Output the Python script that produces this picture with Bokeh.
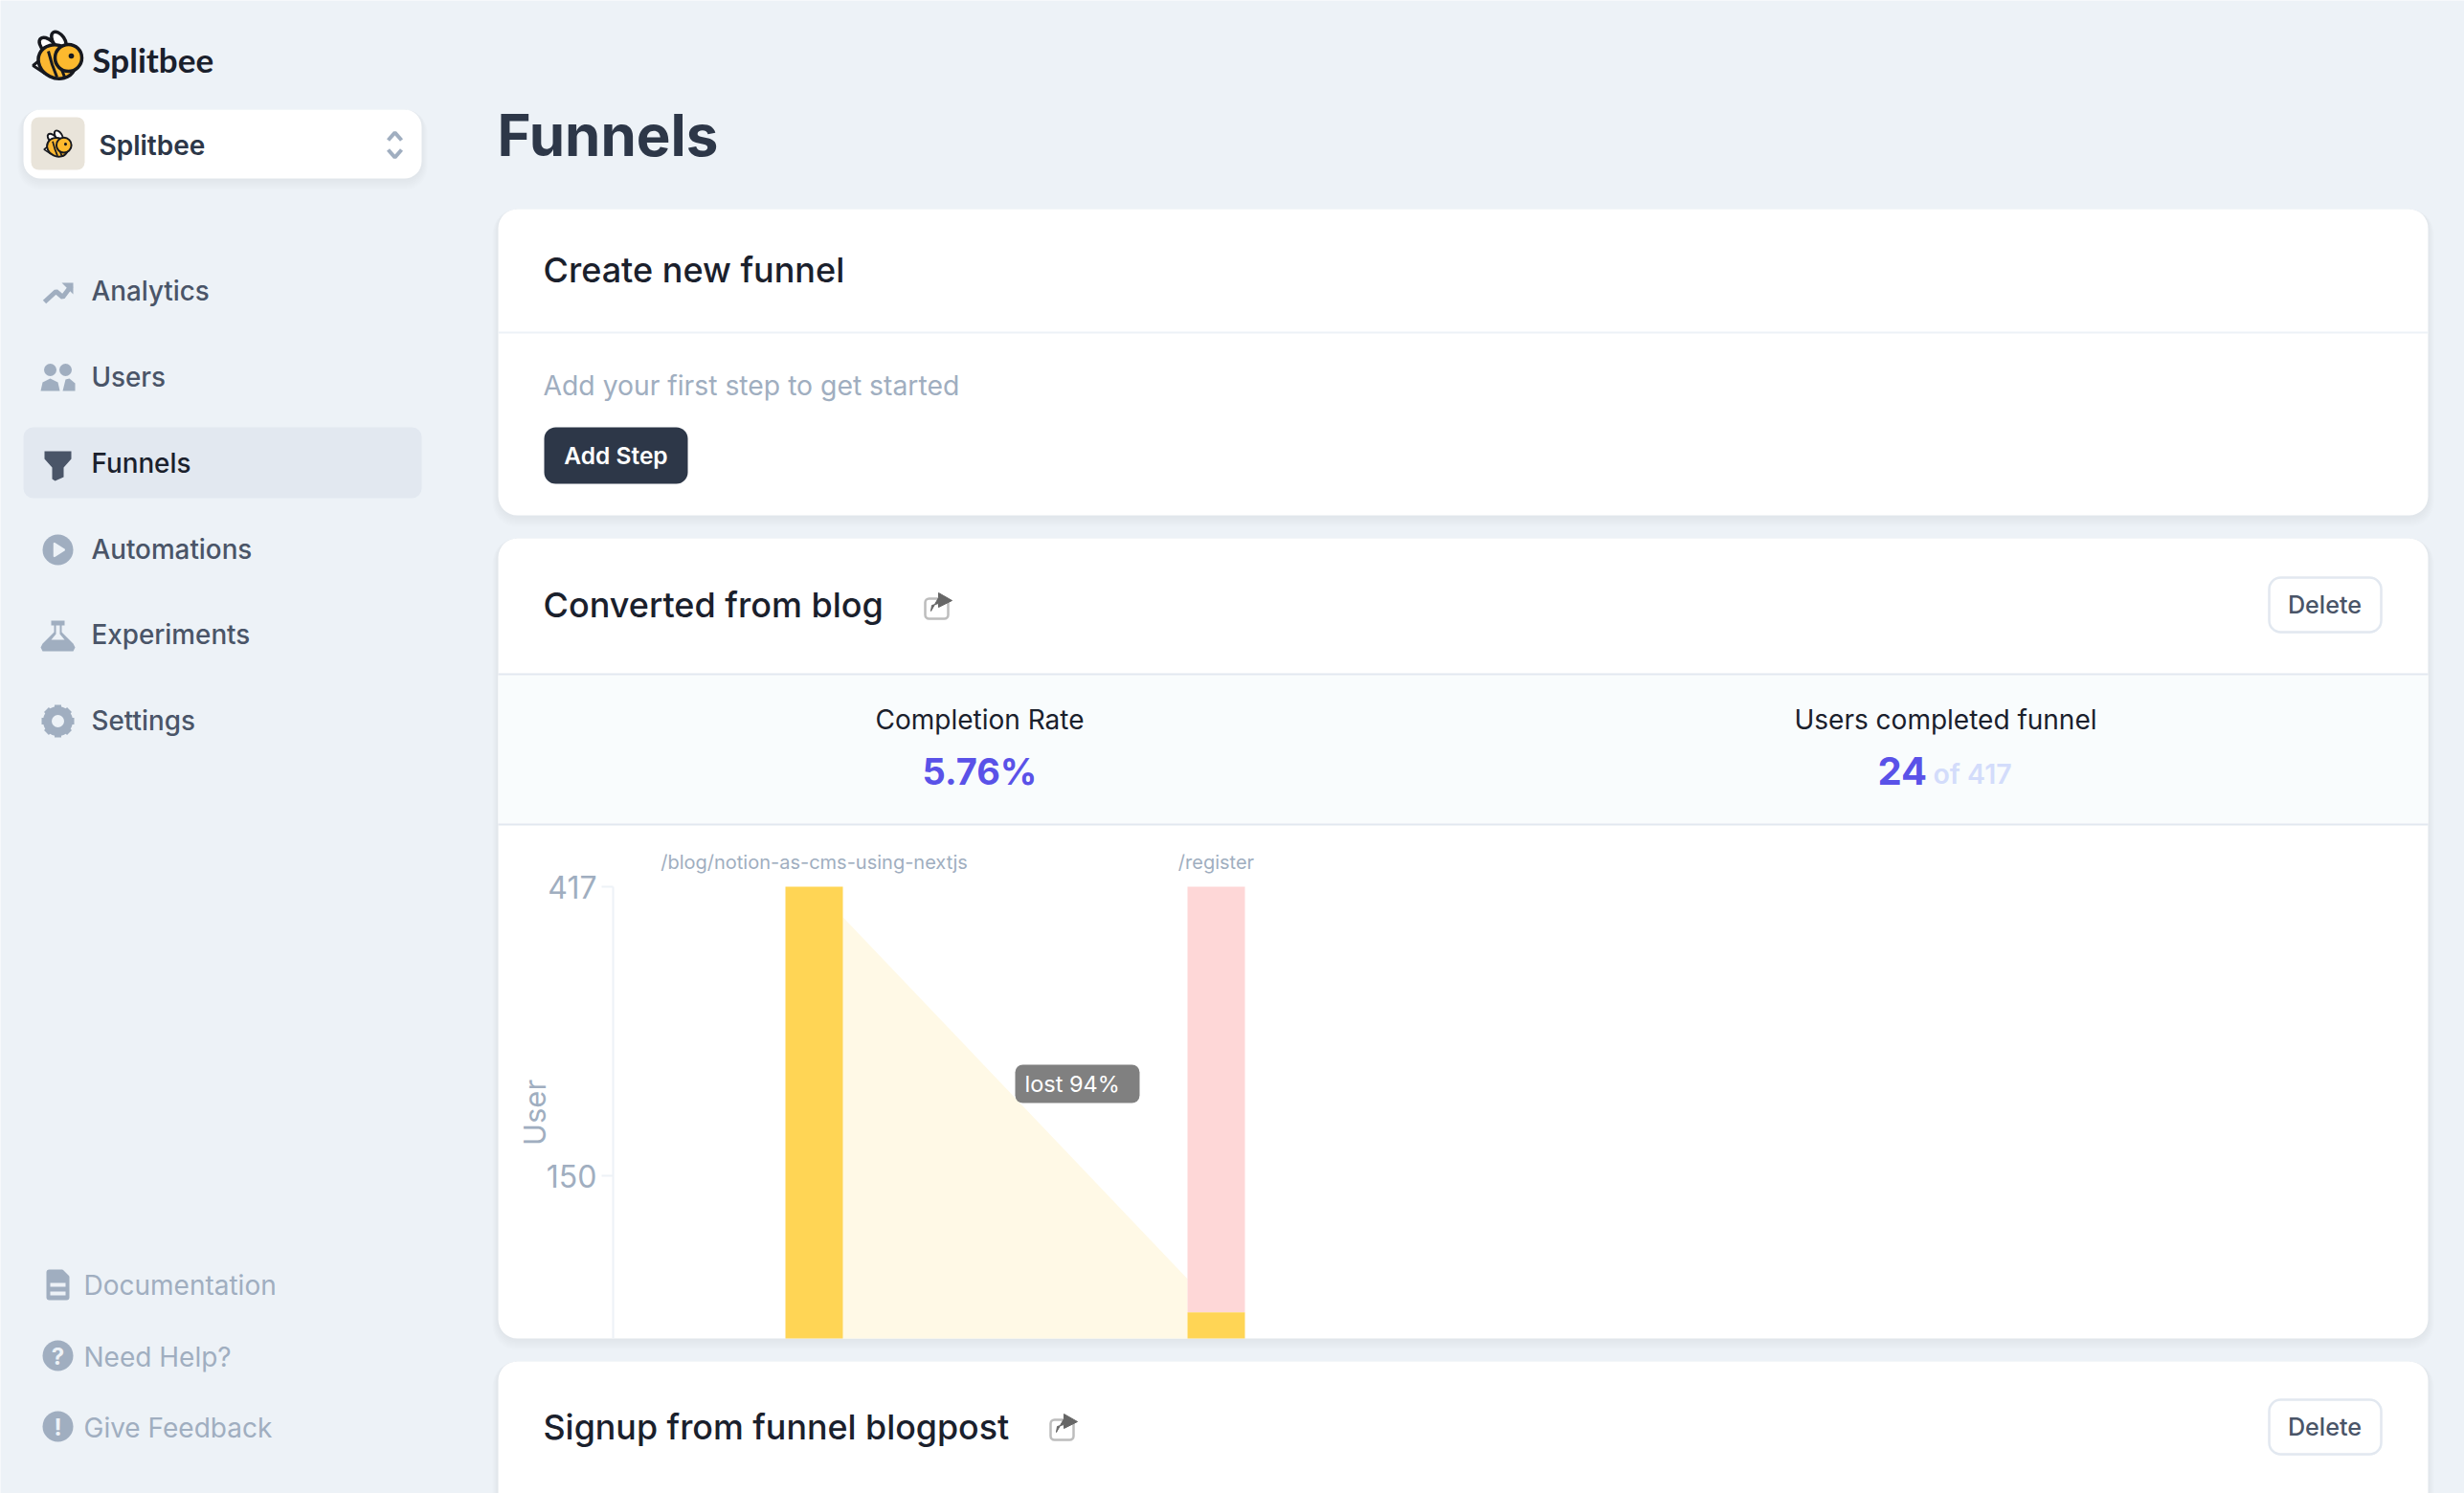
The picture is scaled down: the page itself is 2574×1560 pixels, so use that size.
from bokeh.plotting import figure
from bokeh.models import Range1d, LinearAxis, FixedTicker
from bokeh.core.properties import value
from bokeh.embed import file_html
from bokeh.resources import INLINE
import numpy as np

# Chart data
steps = [0, 1]
step_labels = ["/blog/notion-as-cms-using-nextjs", "/register"]
users_reached = [417, 24]
users_lost = [0, 393]
funnel_edge = [389, 55]
y_ticks = [150, 417]
lost_percent = 94
completion_rate = "5.76%"

# Page text
nav_labels = ["Analytics", "Users", "Funnels", "Automations", "Experiments", "Settings"]
footer_labels = ["Documentation", "Need Help?", "Give Feedback"]
card_titles = ["Create new funnel", "Converted from blog", "Signup from funnel blogpost"]

GRAY = "#a0aec0"
SLATE = "#4a5568"
DARK = "#1a202c"
NAVY = "#2d3748"
LINE = "#e2e8f0"
BG = "#edf2f7"
YELLOW = "#ffd555"
PURPLE = "#5a52e8"
MEDIUM = "Inter Medium"
SEMI = "Inter SemiBold"

# the whole page is one figure, x and y are page pixels
p = figure(width=2574, height=1560, x_range=Range1d(0, 2574), y_range=Range1d(1560, 0),
           x_axis_type=None, y_axis_type=None, toolbar_location=None, output_backend="svg",
           min_border=0, background_fill_color=BG, border_fill_color=BG, outline_line_color=None)
p.grid.visible = False

# chart scales sit on top of the page scales
px_per_user = (1398 - 926) / 417
px_per_step = 420
p.extra_y_ranges = {"users": Range1d((1398 - 1560) / px_per_user, 1398 / px_per_user)}
p.extra_x_ranges = {"steps": Range1d(-850 / px_per_step, (2574 - 850) / px_per_step)}
bar_width = 60 / px_per_step


def box(l, t, r, b, fill, radius=0, line=None, alpha=1.0, width=2):
    p.quad(left=[l], right=[r], top=[t], bottom=[b], fill_color=fill, fill_alpha=alpha,
           line_color=line, line_width=width, border_radius=radius)


def txt(x, y, s, size, color=DARK, align="left", style="normal", font="Inter"):
    p.text(x=[x], y=[y - 1], text=[s], text_font=value(font), text_font_size=f"{size}px", text_color=color,
           text_align=align, text_baseline="middle", text_font_style=style)


def shadow(l, t, r, b, radius):
    for i in range(1, 7):
        box(l - i, t, r + i, b + i * 2, "#64748b", radius + i, alpha=0.016)


def bee(cx, cy, s):
    # s = 1 is the big logo
    ink = "#17191f"
    p.ellipse(x=[cx - 8 * s, cx + 3 * s], y=[cy - 9 * s, cy - 15 * s], width=[13 * s, 12 * s], height=[23 * s, 21 * s],
              angle=[0.8, 0.6], fill_color="#ffffff", line_color=ink, line_width=3.5 * s)
    p.patch([cx - 24 * s, cx - 14 * s, cx - 12 * s], [cy + 11 * s, cy + 3 * s, cy + 19 * s],
            fill_color="#ffffff", line_color=ink, line_width=3 * s)
    p.ellipse(x=[cx + 1 * s], y=[cy + 7 * s], width=[40 * s], height=[34 * s], angle=[-0.45],
              fill_color="#fbb731", line_color=ink, line_width=3.5 * s)
    for dx in (-8, 0):
        p.line([cx + dx * s, cx + (dx + 4) * s, cx + (dx + 9) * s], [cy - 4 * s, cy + 10 * s, cy + 23 * s],
               line_color=ink, line_width=3 * s)
    p.circle(x=[cx + 13 * s], y=[cy + 3 * s], radius=14 * s, fill_color="#fdb92e", line_color=ink, line_width=3.5 * s)
    p.circle(x=[cx + 16 * s], y=[cy + 1 * s], radius=2.8 * s, fill_color=ink, line_color=None)


# --- sidebar ---
bee(58, 57, 1)
txt(96, 62, "Splitbee", 35, DARK, font="Lato", style="bold")

shadow(24, 114, 440, 186, 18)
box(24, 114, 440, 186, "#ffffff", 18)
box(32, 122, 88, 177, "#e9e4da", 8)
bee(59, 149.5, 0.56)
txt(103, 152, "Splitbee", 28, NAVY, font=SEMI)
p.line([405, 412, 419], [146, 138, 146], line_color=GRAY, line_width=4)
p.line([405, 412, 419], [156, 164, 156], line_color=GRAY, line_width=4)

box(24, 446, 440, 520, "#e2e8f0", 10)
nav_y = [304, 394, 484, 574, 663, 753]
for label, y in zip(nav_labels, nav_y):
    txt(95, y, label, 27.8, DARK if label == "Funnels" else SLATE, font=MEDIUM)
for label, y in zip(footer_labels, [1343, 1418, 1492]):
    txt(87, y, label, 28, GRAY)

# nav icons
p.line([46, 58, 65, 74], [315, 304, 310, 298], line_color=GRAY, line_width=5)
p.patch([64, 76, 76], [295, 295, 307], fill_color=GRAY, line_color=None)
p.circle(x=[52, 68], y=[386, 386], radius=6.5, fill_color=GRAY, line_color=None)
p.patch([42, 44, 52, 60, 62, 62, 42], [408, 399, 395, 399, 408, 408, 408], fill_color=GRAY, line_color=None)
p.patch([65, 68, 72, 78, 78], [408, 396, 395, 400, 408], fill_color=GRAY, line_color=None)
p.patch([46, 74, 74, 66, 66, 57, 54, 54, 46], [471, 471, 479, 488, 498, 502, 500, 488, 479],
        fill_color=SLATE, line_color=None)
p.circle(x=[60], y=[574], radius=16, fill_color=GRAY, line_color=None)
p.patch([56, 56, 67], [567, 581, 574], fill_color=BG, line_color=BG, line_width=1.5)
p.patch([53, 67, 67, 64, 64, 76, 78, 76, 44, 42, 44, 56, 56, 53], [648, 648, 653, 653, 660, 672, 676, 680, 680, 676, 672, 660, 653, 653],
        fill_color=GRAY, line_color=None)
p.patch([58, 62, 62, 67, 53, 58], [653, 653, 662, 668, 668, 662], fill_color=BG, line_color=None)
gear = np.linspace(0, 2 * np.pi, 8, endpoint=False)
p.circle(x=[60], y=[753], radius=11, fill_color=None, line_color=GRAY, line_width=9)
p.rect(x=60 + 13.5 * np.cos(gear), y=753 + 13.5 * np.sin(gear), width=7, height=7, angle=-gear, fill_color=GRAY, line_color=None)
box(48, 1326, 72, 1358, GRAY, 3)
p.patch([64, 73, 73], [1325, 1325, 1334], fill_color=BG, line_color=None)
box(52, 1340, 68, 1344, BG)
box(52, 1349, 68, 1353, BG)
p.circle(x=[60, 60], y=[1416, 1490], radius=16, fill_color=GRAY, line_color=None)
txt(60, 1418, "?", 24, BG, align="center", style="bold")
txt(60, 1492, "!", 24, BG, align="center", style="bold")

# --- header ---
txt(519, 141, "Funnels", 60, NAVY, style="bold")

# --- cards ---
shadow(520, 218, 2536, 538, 20)
shadow(520, 562, 2536, 1398, 20)
box(520, 218, 2536, 538, "#ffffff", 20)
box(520, 562, 2536, 1398, "#ffffff", 20)
shadow(520, 1422, 2536, 1600, 20)
box(520, 1422, 2536, 1600, "#ffffff", 20)

# create new funnel
txt(567, 282, card_titles[0], 36, font=MEDIUM)
box(520, 346, 2536, 348, BG)
txt(567, 403, "Add your first step to get started", 28.3, GRAY)
box(568, 446, 718, 505, NAVY, 12)
txt(643, 476, "Add Step", 24.5, "#ffffff", align="center", font=SEMI)

# converted from blog
txt(567, 632, card_titles[1], 36, font=MEDIUM)
box(520, 705, 2536, 860, "#f9fcfd")
box(520, 703, 2536, 705, LINE)
box(520, 860, 2536, 862, LINE)
txt(1023, 752, "Completion Rate", 28, align="center")
txt(1023, 806, completion_rate, 38, PURPLE, align="center", style="bold")
txt(2032, 752, "Users completed funnel", 28, align="center")
txt(1961, 806, str(users_reached[1]), 40, PURPLE, style="bold")
txt(2019, 809, f"of {users_reached[0]}", 28.5, "#d3dcfb", font=SEMI)


def share(l, t):
    box(l, t + 6, l + 24, t + 27, None, 4, line="#bdbdbd", width=2.5)
    p.patch([l + 14, l + 28, l + 14, l + 14, l + 7, l + 6, l + 14],
            [t, t + 8, t + 15, t + 11, t + 13, t + 19, t + 5], fill_color="#666666", line_color="#666666")


def delete_button(t):
    box(2370, t + 1, 2487, t + 58, "#e8edf3", 12, alpha=0.9)
    box(2370, t, 2487, t + 57, "#ffffff", 12, line=LINE, width=2.5)
    txt(2428, t + 29, "Delete", 25.2, SLATE, align="center", font=MEDIUM)


share(966, 619)
delete_button(603)

# funnel chart
yax = LinearAxis(y_range_name="users", ticker=FixedTicker(ticks=y_ticks), bounds=(0, 417), fixed_location=640,
                 axis_label="User", axis_label_text_font="Inter", axis_label_text_font_size="31px",
                 axis_label_text_font_style="normal", axis_label_text_color=GRAY, axis_label_standoff=-9,
                 major_label_text_font="Inter", major_label_text_font_size="32px", major_label_text_color=GRAY,
                 major_label_standoff=5, major_tick_out=12, major_tick_in=0, minor_tick_out=0, minor_tick_in=0,
                 axis_line_color=BG, axis_line_width=2, major_tick_line_color=BG, major_tick_line_width=2)
p.add_layout(yax, "left")

edge_x = [steps[0] + bar_width / 2, steps[1] - bar_width / 2]
p.varea(x=edge_x, y1=[0, 0], y2=funnel_edge, fill_color="#fff9e6", x_range_name="steps", y_range_name="users")
p.vbar(x=steps, width=bar_width, bottom=users_reached, top=[a + b for a, b in zip(users_reached, users_lost)],
       fill_color="#fed7d7", line_color=None, x_range_name="steps", y_range_name="users")
p.vbar(x=steps, width=bar_width, bottom=0, top=users_reached, fill_color=YELLOW, line_color=None,
       x_range_name="steps", y_range_name="users")
p.text(x=steps, y=900, text=step_labels, text_font=value("Inter"), text_font_size="20px", text_color=GRAY,
       text_align="center", text_baseline="middle", x_range_name="steps")

box(1060, 1112, 1190, 1152, "#808080", 8)
txt(1070, 1133, f"lost {lost_percent}%", 23.5, "#ffffff")

# signup from funnel blogpost
txt(567, 1491, card_titles[2], 35.8, font=MEDIUM)
share(1097, 1477)
delete_button(1462)

open("out.html", "w").write(file_html(p, INLINE))
